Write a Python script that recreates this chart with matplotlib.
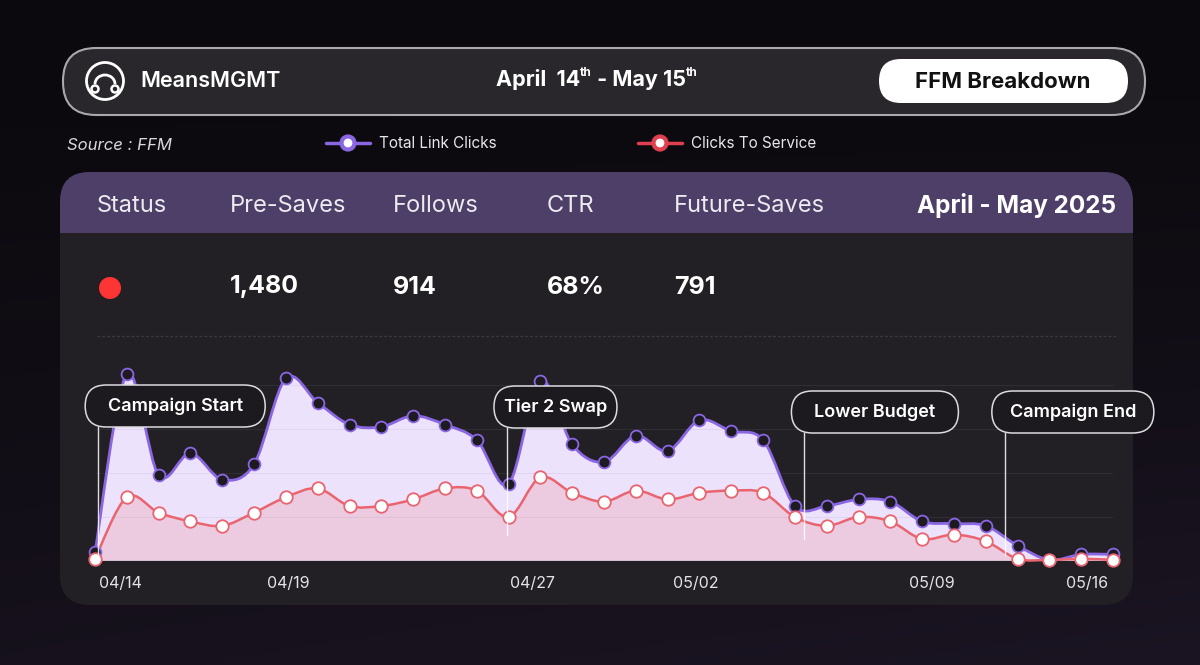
import numpy as np
import matplotlib
matplotlib.use("Agg")
import matplotlib.pyplot as plt
from matplotlib.patches import FancyBboxPatch, PathPatch, Circle, Arc, Rectangle
from matplotlib.path import Path

plt.rcParams['font.family'] = ['Inter', 'DejaVu Sans']

# daily values, 04/14 .. 05/16
total_link_clicks = [4, 85, 39, 49, 37, 44, 83, 72, 62, 61, 66, 62, 55, 35, 82, 53, 45,
                     57, 50, 64, 59, 55, 25, 25, 28, 27, 18, 17, 16, 7, 0.5, 3, 3]
clicks_to_service = [1, 29, 22, 18, 16, 22, 29, 33, 25, 25, 28, 33, 32, 20, 38, 31, 27,
                     32, 28, 31, 32, 31, 20, 16, 20, 18, 10, 12, 9, 1, 0.5, 1, 0.5]
tick_labels = ['04/14', '04/19', '04/27', '05/02', '05/09', '05/16']
tick_pos = [0.8, 6.08, 13.75, 18.87, 26.3, 31.2]
events = ['Campaign Start', 'Tier 2 Swap', 'Lower Budget', 'Campaign End']
event_pos = [0.1, 12.95, 22.3, 28.6]
headers = ['Status', 'Pre-Saves', 'Follows', 'CTR', 'Future-Saves']
row_values = ['1,480', '914', '68%', '791']

W, H = 1200, 665
PURPLE = '#8a66e3'
RED = '#ea6470'

fig = plt.figure(figsize=(W / 100, H / 100), dpi=100)

# background layer in pixel coordinates
bg = fig.add_axes([0, 0, 1, 1], zorder=0)
bg.set_xlim(0, W)
bg.set_ylim(H, 0)
bg.axis('off')
gy = np.linspace(0, 1, 200)[:, None]
gx = np.linspace(0, 1, 200)[None, :]
top = np.array([11, 9, 13]) / 255
bot = np.array([27, 21, 35]) / 255
t = np.clip(gy ** 1.3 * (0.7 + 0.3 * gx), 0, 1)
grad = top[None, None, :] * (1 - t[..., None]) + bot[None, None, :] * t[..., None]
bg.imshow(grad, extent=(0, W, H, 0), aspect='auto', zorder=0)

# header pill
bg.add_patch(FancyBboxPatch((63, 48), 1082, 67, boxstyle='round,pad=0,rounding_size=33',
                            fc='#29272c', ec='#a9a8ad', lw=1.5, zorder=1))
bg.add_patch(Circle((105, 81), 18.5, fc='none', ec='white', lw=2, zorder=2))
bg.add_patch(Arc((105, 84), 20, 18, theta1=180, theta2=360, ec='white', lw=2, zorder=2))
bg.add_patch(Circle((95, 89), 3.5, fc='none', ec='white', lw=1.8, zorder=2))
bg.add_patch(Circle((115, 89), 3.5, fc='none', ec='white', lw=1.8, zorder=2))
bg.text(140, 81, 'MeansMGMT', color='white', fontsize=15.5, fontweight='semibold',
        ha='left', va='center', zorder=3)

# date range title with superscripts
renderer = fig.canvas.get_renderer()
pieces = [('April  14', 15.5, 0), ('th', 8.5, 7), (' - May 15', 15.5, 0), ('th', 8.5, 7)]
arts = []
for s, fs, dy in pieces:
    tx = bg.text(0, 80 - dy, s, color='white', fontsize=fs, fontweight='bold',
                 ha='left', va='center', zorder=3)
    arts.append(tx)
widths = [a.get_window_extent(renderer).width for a in arts]
x0 = 597 - sum(widths) / 2
for a, w in zip(arts, widths):
    a.set_x(x0)
    x0 += w

bg.add_patch(FancyBboxPatch((879, 59), 249, 44, boxstyle='round,pad=0,rounding_size=22',
                            fc='white', ec='none', zorder=2))
bg.text(1003, 81.5, 'FFM Breakdown', color='#111111', fontsize=16, fontweight='bold',
        ha='center', va='center', zorder=3)

# source + legend
bg.text(67, 145, 'Source : FFM', color='#d9d9dc', fontsize=12, style='italic',
        ha='left', va='center')
for lx, col, lab in [(326, PURPLE, 'Total Link Clicks'), (638, '#e0404f', 'Clicks To Service')]:
    bg.plot([lx, lx + 44], [143, 143], color=col, lw=2.5, solid_capstyle='round', zorder=2)
    bg.add_patch(Circle((lx + 22, 143), 6.5, fc='white', ec=col, lw=3, zorder=3))
    bg.text(lx + 53, 143, lab, color='#e6e6e8', fontsize=11, ha='left', va='center')

# main panel
bg.add_patch(FancyBboxPatch((60, 172), 1073, 433, boxstyle='round,pad=0,rounding_size=30',
                            fc='#222025', ec='none', zorder=1))
bg.add_patch(FancyBboxPatch((60, 172), 1073, 61, boxstyle='round,pad=0,rounding_size=30',
                            fc='#4d3f68', ec='none', zorder=2))
bg.add_patch(Rectangle((60, 205), 1073, 28, fc='#4d3f68', ec='none', zorder=2))

header_x = [97, 230, 393, 547, 674]
for hx, h in zip(header_x, headers):
    bg.text(hx, 206, h, color='#ecebf0', fontsize=17, ha='left', va='center', zorder=3)
bg.text(1116, 206, 'April - May 2025', color='white', fontsize=17.5, fontweight='bold',
        ha='right', va='center', zorder=3)

bg.add_patch(Circle((110, 288), 11, fc='#ff3535', ec='none', zorder=3))
for vx, v in zip(header_x[1:], row_values):
    bg.text(vx, 287, v, color='white', fontsize=18, fontweight='bold',
            ha='left', va='center', zorder=3)
bg.plot([97, 1116], [336, 336], color='#3b393f', lw=1, ls=(0, (2, 1.5)), zorder=3)


# smooth curve through the daily points (Catmull-Rom as cubic Bezier segments)
def smooth_path(xs, ys, closed_to_base=False, k=1 / 6):
    n = len(xs)
    verts = [(xs[0], ys[0])]
    codes = [Path.MOVETO]
    for i in range(n - 1):
        p0 = max(i - 1, 0)
        p3 = min(i + 2, n - 1)
        c1 = (xs[i] + (xs[i + 1] - xs[p0]) * k, ys[i] + (ys[i + 1] - ys[p0]) * k)
        c2 = (xs[i + 1] - (xs[p3] - xs[i]) * k, ys[i + 1] - (ys[p3] - ys[i]) * k)
        verts += [c1, c2, (xs[i + 1], ys[i + 1])]
        codes += [Path.CURVE4] * 3
    if closed_to_base:
        verts += [(xs[-1], 0), (xs[0], 0), (xs[0], ys[0])]
        codes += [Path.LINETO, Path.LINETO, Path.CLOSEPOLY]
    return Path(verts, codes)


# chart axes
ax = fig.add_axes([95 / W, (H - 561) / H, 1018 / W, 211 / H], zorder=2)
ax.patch.set_visible(False)
ax.set_xlim(0, 32)
ax.set_ylim(0, 211 / 2.2)
for sp in ax.spines.values():
    sp.set_visible(False)
x = np.arange(len(total_link_clicks))

ax.add_patch(PathPatch(smooth_path(x, total_link_clicks, True), fc='#ece2fc', ec='none', zorder=1))
ax.add_patch(PathPatch(smooth_path(x, clicks_to_service, True), fc='#eccbe0', ec='none', zorder=2))
for gv in [20, 40, 60, 80]:
    ax.axhline(gv, color='#8f889c', lw=0.7, alpha=0.14, zorder=3)
ax.axhline(0, color='#cdbccb', lw=1.2, zorder=3)
ax.add_patch(PathPatch(smooth_path(x, total_link_clicks), fc='none', ec=PURPLE, lw=2, zorder=4,
                       clip_on=False))
ax.add_patch(PathPatch(smooth_path(x, clicks_to_service), fc='none', ec=RED, lw=1.8, zorder=5,
                       clip_on=False))
ax.plot(x, total_link_clicks, ls='none', marker='o', ms=8.5, mfc='#1d1b20', mec=PURPLE,
        mew=1.3, zorder=6, clip_on=False)
ax.plot(x, clicks_to_service, ls='none', marker='o', ms=9, mfc='white', mec=RED,
        mew=1.3, zorder=7, clip_on=False)

ax.set_yticks([])
ax.set_xticks(tick_pos, tick_labels)
ax.tick_params(axis='x', length=0, pad=11, labelsize=11.5, labelcolor='#e4e3e8')

# event labels on top
ov = fig.add_axes([0, 0, 1, 1], zorder=3)
ov.set_xlim(0, W)
ov.set_ylim(H, 0)
ov.axis('off')
ov.patch.set_visible(False)
box_w = [180, 123, 167, 162]
box_top = [385, 386, 391, 391]
line_bottom = [560, 535, 539, 555]
for ev, ep, bw, bt, lb in zip(events, event_pos, box_w, box_top, line_bottom):
    px = ax.transData.transform((ep, 0))[0]
    ov.plot([px, px], [bt + 42, lb], color='white', lw=1, alpha=0.85, zorder=1)
    ov.add_patch(FancyBboxPatch((px - 13, bt), bw, 42, boxstyle='round,pad=0,rounding_size=21',
                                fc='#1c1a1f', ec='#dcdbe0', lw=1.1, zorder=2))
    ov.text(px - 13 + bw / 2, bt + 21.5, ev, color='white', fontsize=13, fontweight='semibold',
            ha='center', va='center', zorder=3)

fig.savefig('out.png', dpi=100)
